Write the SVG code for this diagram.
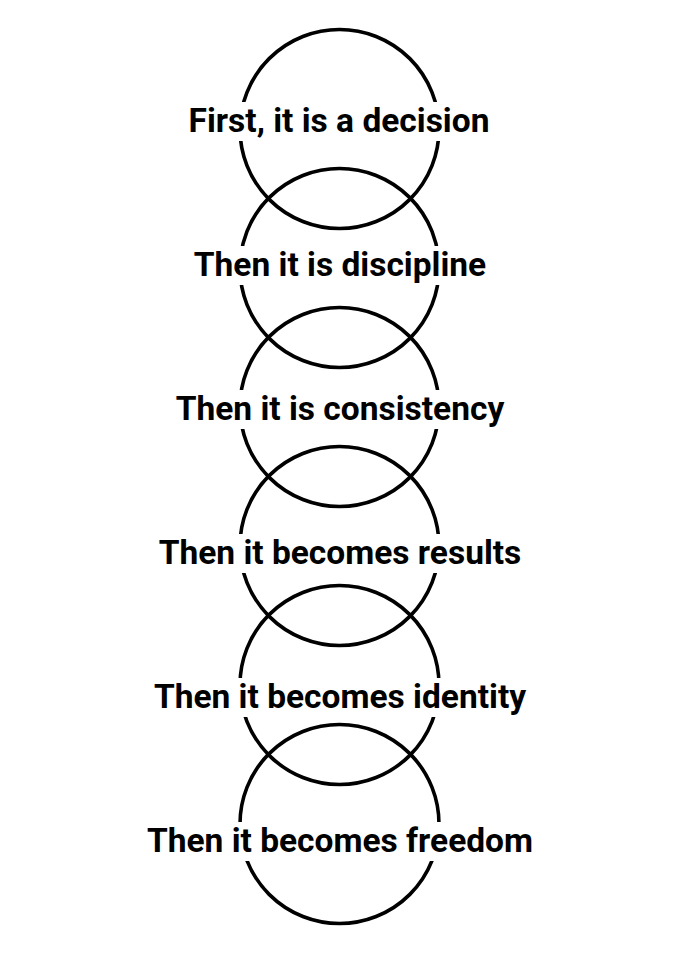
<svg xmlns="http://www.w3.org/2000/svg" width="681" height="953" viewBox="0 0 681 953">
<style>
.ring{fill:none;stroke:#000;stroke-width:3.6}
.bg{fill:#fff}
.lbl{font-family:Roboto,"Liberation Sans",sans-serif;font-weight:700;font-size:33.5px;fill:#000;text-anchor:middle}
</style>
<rect width="681" height="953" fill="#fff"/>
<g id="connectors"></g>
<g id="node1"><circle class="ring" cx="339.5" cy="129" r="99.5"/><rect class="bg" x="185" y="102" width="310" height="39"/><text class="lbl" x="339" y="132">First, it is a decision</text></g>
<g id="node2"><circle class="ring" cx="339.5" cy="268" r="99.5"/><rect class="bg" x="185" y="246" width="310" height="39"/><text class="lbl" x="340" y="276">Then it is discipline</text></g>
<g id="node3"><circle class="ring" cx="339.5" cy="407" r="99.5"/><rect class="bg" x="170" y="390" width="340" height="39"/><text class="lbl" x="340" y="420">Then it is consistency</text></g>
<g id="node4"><circle class="ring" cx="339.5" cy="546" r="99.5"/><rect class="bg" x="155" y="534" width="370" height="39"/><text class="lbl" x="340" y="564">Then it becomes results</text></g>
<g id="node5"><circle class="ring" cx="339.5" cy="685" r="99.5"/><rect class="bg" x="150" y="678" width="380" height="39"/><text class="lbl" x="340" y="708">Then it becomes identity</text></g>
<g id="node6"><circle class="ring" cx="339.5" cy="824" r="99.5"/><rect class="bg" x="145" y="822" width="390" height="39"/><text class="lbl" x="340" y="852">Then it becomes freedom</text></g>
</svg>
